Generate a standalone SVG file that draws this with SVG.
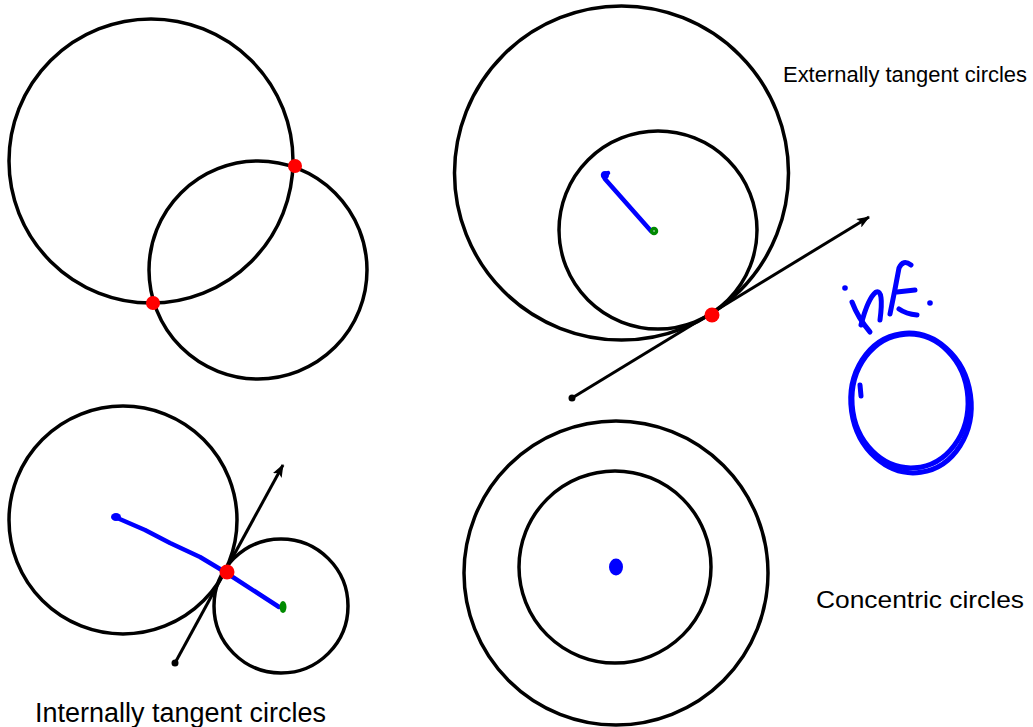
<svg xmlns="http://www.w3.org/2000/svg" width="1033" height="727" viewBox="0 0 1033 727">
  <style>
    .c { fill: none; stroke: #000; stroke-width: 3.5; }
    .pt { fill: #ff0000; }
    .tan { stroke: #000; stroke-width: 3; fill: none; marker-end: url(#arr); }
    .blue { stroke: #0000ff; stroke-width: 4.5; fill: none; stroke-linecap: round; stroke-linejoin: round; }
    .green { stroke: #008a00; stroke-width: 3.5; fill: none; stroke-linecap: round; }
    .lbl { font-family: "Liberation Sans", Arial, sans-serif; fill: #000; }
    .ink { stroke: #0000ff; stroke-width: 5; fill: none; stroke-linecap: round; stroke-linejoin: round; }
  </style>
  <defs>
    <marker id="arr" markerUnits="userSpaceOnUse" markerWidth="14" markerHeight="10" refX="12" refY="5" orient="auto">
      <path d="M0,0 L13,5 L0,10 L3,5 Z" fill="#000"/>
    </marker>
  </defs>
  <rect width="1033" height="727" fill="#fff"/>

  <g id="intersecting">
    <circle class="c" cx="151" cy="161" r="142"/>
    <circle class="c" cx="258" cy="270" r="109"/>
    <circle class="pt" cx="295" cy="166" r="7"/>
    <circle class="pt" cx="153" cy="303" r="7"/>
  </g>

  <g id="external">
    <circle class="c" cx="621.5" cy="173" r="167"/>
    <circle class="c" cx="658" cy="230" r="99"/>
  </g>

  <g id="internal">
    <circle class="c" cx="123" cy="520" r="114"/>
    <circle class="c" cx="281" cy="606" r="67"/>
  </g>

  <g id="concentric">
    <circle class="c" cx="616" cy="573" r="152"/>
    <circle class="c" cx="615" cy="567" r="96"/>
    <ellipse cx="616" cy="567" rx="7" ry="8.5" fill="#0000ff"/>
  </g>

  <g id="connectors">
    <line class="tan" x1="572" y1="398" x2="869" y2="217"/>
    <circle cx="572" cy="398" r="3.5" fill="#000"/>
    <line class="tan" x1="175" y1="663" x2="283" y2="465"/>
    <circle cx="175" cy="663" r="3.5" fill="#000"/>
    <path class="blue" d="M608,173 L603,175 L605,179 L651,231" stroke-width="5"/>
    <circle cx="605" cy="175" r="4" fill="#0000ff"/>
    <circle class="green" cx="654" cy="231" r="2.5"/>
    <path class="blue" d="M115,517 L145,530 L170,543 L200,557 L225,572 L279,607"/>
    <ellipse cx="116" cy="517" rx="5" ry="4" fill="#0000ff"/>
    <ellipse cx="283" cy="607" rx="3.5" ry="6" fill="#008a00"/>
  </g>

  <g id="tangent-points">
    <circle class="pt" cx="712" cy="315" r="7.5"/>
    <circle class="pt" cx="227" cy="572" r="7.5"/>
  </g>

  <g id="infinity-note">
    <circle cx="845" cy="288" r="2.8" fill="#0000ff"/>
    <path class="ink" d="M852,302 Q858,318 870,332"/>
    <path class="ink" d="M861,325 Q868,298 876,292 Q884,289 880,320"/>
    <path class="ink" d="M911,265 Q903,259 899,268 Q895,290 890,314"/>
    <path class="ink" d="M897,292 L915,290"/>
    <path class="ink" d="M899,309 Q906,314 917,315"/>
    <circle cx="930" cy="303" r="2.8" fill="#0000ff"/>
    <ellipse class="ink" cx="911" cy="403" rx="60" ry="70" transform="rotate(-8 911 403)"/>
    <ellipse class="ink" cx="910" cy="401" rx="58" ry="67" transform="rotate(-4 910 401)" stroke-width="3"/>
    <path class="ink" d="M860,385 L861,396"/>
  </g>

  <g id="labels">
    <text class="lbl" x="783" y="82" font-size="22" textLength="244" lengthAdjust="spacingAndGlyphs">Externally tangent circles</text>
    <text class="lbl" x="816" y="608" font-size="24" textLength="208" lengthAdjust="spacingAndGlyphs">Concentric circles</text>
    <text class="lbl" x="35" y="722" font-size="27" textLength="291" lengthAdjust="spacingAndGlyphs">Internally tangent circles</text>
  </g>
</svg>
